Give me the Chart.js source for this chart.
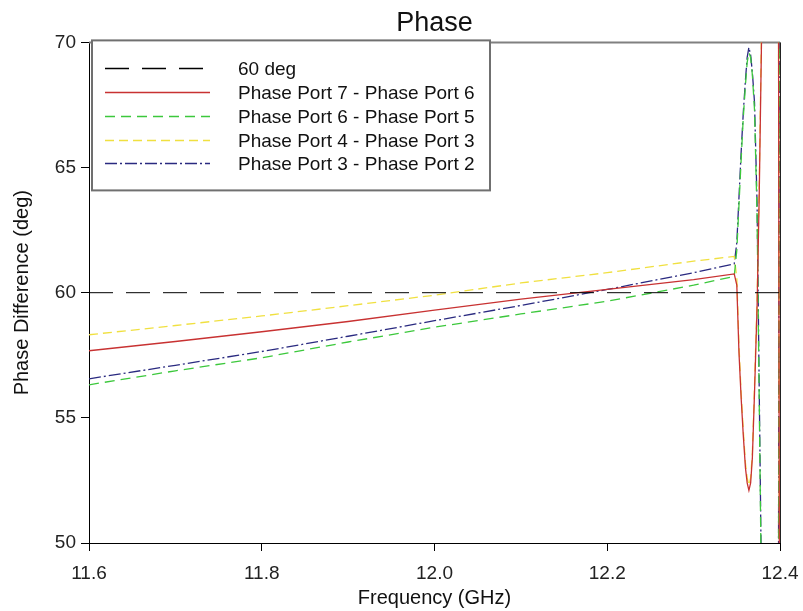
<!DOCTYPE html>
<html>
<head>
<meta charset="utf-8">
<title>Phase</title>
<script src="https://cdn.jsdelivr.net/npm/chart.js@4.4.1/dist/chart.umd.min.js"></script>
<style>
  html, body { margin: 0; padding: 0; background: #fff; }
  #wrap { width: 803px; height: 611px; }
</style>
</head>
<body>
<div id="wrap"><canvas id="phaseChart"></canvas></div>
<script>
// frequency samples (GHz), finer around the resonance near 12.36
const freq = [11.60, 11.70, 11.80, 11.90, 12.00, 12.10, 12.20, 12.30,
  12.347, 12.350, 12.3525, 12.355, 12.3575, 12.360, 12.362, 12.364, 12.366,
  12.368, 12.3705, 12.3735, 12.376, 12.379, 12.398, 12.3995, 12.400];

const refLevel = 60;
const port76 = [57.68, 58.05, 58.44, 58.85, 59.30, 59.74, 60.13, 60.52,
  60.75, 60.30, 57.60, 55.80, 54.30, 53.00, 52.40, 52.10, 52.40,
  53.40, 56.00, 59.50, 64.00, 71.00, 78.00, 42.00, 42.00];
const port65 = [56.32, 56.88, 57.40, 58.03, 58.62, 59.15, 59.66, 60.30,
  60.65, 61.70, 63.50, 65.30, 67.00, 68.30, 69.20, 69.60, 69.40,
  68.70, 67.30, 63.00, 55.50, 46.50, 42.00, 78.00, 78.00];
const port43 = [58.32, 58.69, 59.07, 59.48, 59.90, 60.39, 60.80, 61.26,
  61.45, 60.60, 57.90, 56.00, 54.50, 53.20, 52.60, 52.30, 52.60,
  53.60, 56.30, 59.80, 64.50, 71.50, 78.00, 42.00, 42.00];
const port32 = [56.56, 57.10, 57.65, 58.26, 58.88, 59.49, 60.13, 60.80,
  61.15, 62.00, 63.80, 65.60, 67.20, 68.50, 69.40, 69.80, 69.50,
  68.80, 67.60, 63.50, 56.00, 47.00, 42.00, 78.00, 78.00];

const xTicks = [11.6, 11.8, 12.0, 12.2, 12.4];
const yTicks = [50, 55, 60, 65, 70];

function toPoints(values) {
  return freq.map((f, i) => ({ x: f, y: values[i] }));
}

const framePlugin = {
  id: 'frame',
  beforeDatasetsDraw(chart) {
    const { ctx, chartArea: { left, top, right, bottom } } = chart;
    ctx.save();
    ctx.strokeStyle = '#808080';
    ctx.lineWidth = 2;
    ctx.beginPath();
    ctx.moveTo(left, top);
    ctx.lineTo(right, top);
    ctx.stroke();
    ctx.strokeStyle = '#222';
    ctx.lineWidth = 1;
    ctx.beginPath();
    ctx.moveTo(right + 0.5, top);
    ctx.lineTo(right + 0.5, bottom);
    ctx.stroke();
    ctx.restore();
  }
};

// boxed legend drawn inside the plot, like the original
const boxLegendPlugin = {
  id: 'boxLegend',
  afterDatasetsDraw(chart) {
    const { ctx, chartArea } = chart;
    const bx = chartArea.left + 3;
    const by = chartArea.top - 2;
    const bw = 398;
    const bh = 150;

    ctx.save();
    ctx.fillStyle = '#fff';
    ctx.fillRect(bx, by, bw, bh);
    ctx.strokeStyle = '#707070';
    ctx.lineWidth = 2;
    ctx.strokeRect(bx, by, bw, bh);

    chart.data.datasets.forEach((ds, i) => {
      const y = Math.round(by + 28 + i * 23.7) + 0.5;
      ctx.beginPath();
      ctx.setLineDash(ds.borderDash || []);
      ctx.strokeStyle = ds.borderColor;
      ctx.lineWidth = 1.5;
      ctx.moveTo(bx + 13, y);
      ctx.lineTo(bx + 118, y);
      ctx.stroke();
      ctx.setLineDash([]);

      ctx.fillStyle = '#111';
      ctx.font = "19px 'Liberation Sans', Arial, sans-serif";
      ctx.textAlign = 'left';
      ctx.textBaseline = 'middle';
      ctx.fillText(ds.label, bx + 146, y + 1);
    });
    ctx.restore();
  }
};

function makeSeries(label, values, color, dash, width) {
  return {
    label,
    data: toPoints(values),
    borderColor: color,
    borderDash: dash,
    borderWidth: width,
    pointRadius: 0,
    fill: false,
    tension: 0
  };
}

function createChart(canvasId) {
  Chart.defaults.font.family = "'Liberation Sans', Arial, sans-serif";
  Chart.defaults.color = '#222';

  return new Chart(document.getElementById(canvasId).getContext('2d'), {
    type: 'line',
    data: {
      datasets: [
        {
          label: '60 deg',
          data: [{ x: xTicks[0], y: refLevel }, { x: xTicks[xTicks.length - 1], y: refLevel }],
          borderColor: '#000',
          borderDash: [24, 13],
          borderWidth: 1,
          pointRadius: 0,
          fill: false
        },
        makeSeries('Phase Port 7 - Phase Port 6', port76, '#c83232', [], 1.3),
        makeSeries('Phase Port 6 - Phase Port 5', port65, '#3cc83c', [10, 6], 1.3),
        makeSeries('Phase Port 4 - Phase Port 3', port43, '#f0e040', [9, 5], 1.3),
        makeSeries('Phase Port 3 - Phase Port 2', port32, '#2a2a80', [12, 3, 2, 3], 1.3)
      ]
    },
    options: {
      responsive: true,
      maintainAspectRatio: false,
      animation: false,
      layout: { padding: { left: 0, right: 23, top: 0, bottom: 0 } },
      plugins: {
        legend: { display: false },
        tooltip: { enabled: false },
        title: {
          display: true,
          text: 'Phase',
          fullSize: false,
          color: '#111',
          font: { size: 27, weight: 'normal' },
          padding: { top: 7, bottom: 3 }
        }
      },
      scales: {
        x: {
          type: 'linear',
          min: xTicks[0],
          max: xTicks[xTicks.length - 1],
          afterBuildTicks: scale => { scale.ticks = xTicks.map(v => ({ value: v })); },
          afterFit: scale => {
            scale.height = 68;
            scale.paddingLeft = 0;
            scale.paddingRight = 0;
          },
          ticks: {
            callback: v => v.toFixed(1),
            font: { size: 19 },
            padding: 11,
            maxRotation: 0
          },
          grid: { drawOnChartArea: false, drawTicks: true, tickLength: 8, color: '#000' },
          border: { color: '#000', width: 1 },
          title: {
            display: true,
            text: 'Frequency (GHz)',
            color: '#111',
            font: { size: 20 },
            padding: { top: 0, bottom: 1 }
          }
        },
        y: {
          min: yTicks[0],
          max: yTicks[yTicks.length - 1],
          afterBuildTicks: scale => { scale.ticks = yTicks.map(v => ({ value: v })); },
          afterFit: scale => { scale.width = 89; },
          ticks: {
            callback: v => String(v),
            font: { size: 19 },
            padding: 5
          },
          grid: { drawOnChartArea: false, drawTicks: true, tickLength: 8, color: '#000' },
          border: { color: '#000', width: 1 },
          title: {
            display: true,
            text: 'Phase Difference (deg)',
            color: '#111',
            font: { size: 20 },
            padding: { top: 10, bottom: 0 }
          }
        }
      }
    },
    plugins: [framePlugin, boxLegendPlugin]
  });
}

let phaseChart;
document.addEventListener('DOMContentLoaded', () => {
  phaseChart = createChart('phaseChart');
});
</script>
</body>
</html>
